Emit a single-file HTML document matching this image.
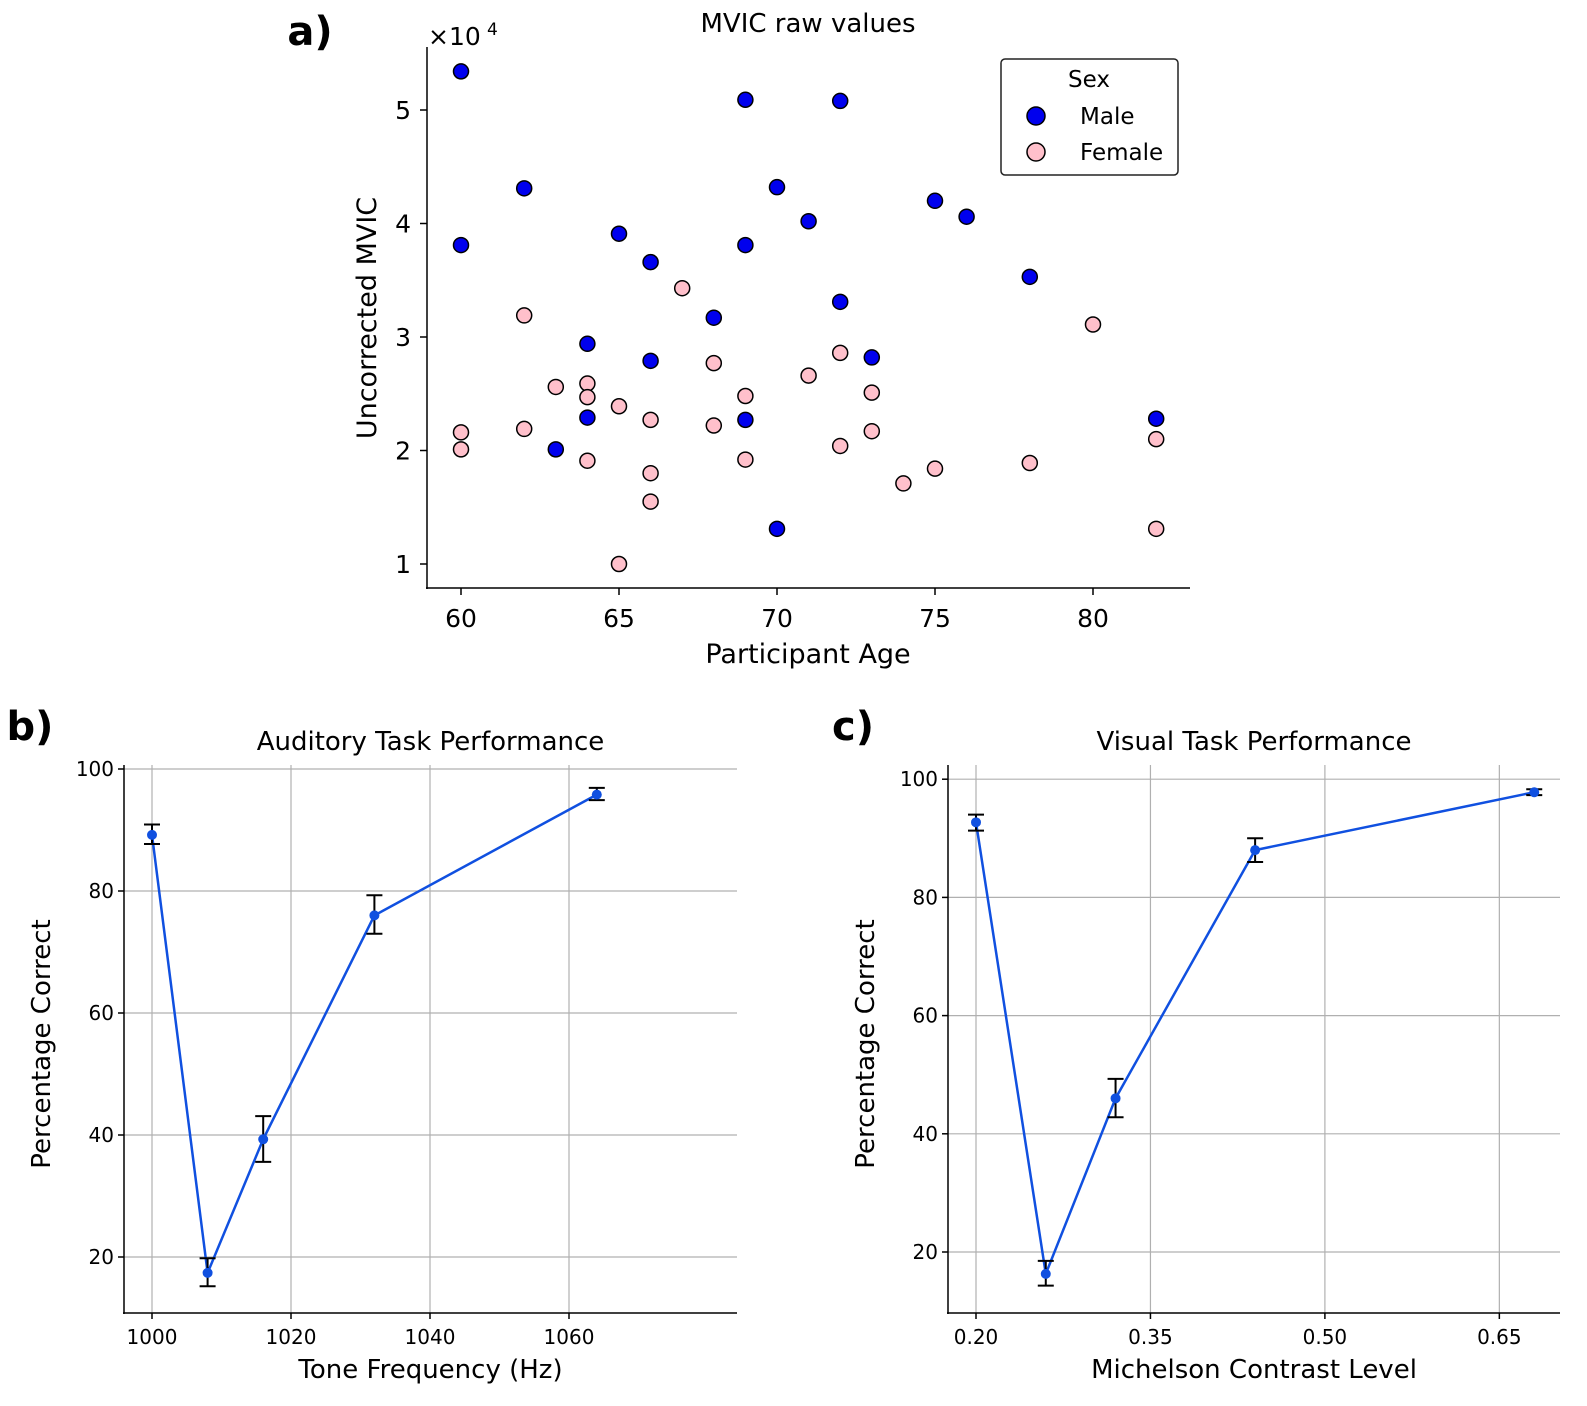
<!DOCTYPE html>
<html><head><meta charset="utf-8"><style>
html,body{margin:0;padding:0;background:#fff;overflow:hidden;width:1587px;height:1406px}
svg{display:block}
svg text{font-family:"DejaVu Sans","Liberation Sans",sans-serif;fill:#000}
</style></head><body>
<svg id="s" width="1587" height="1406" viewBox="0 0 1587 1406" xmlns="http://www.w3.org/2000/svg"></svg>
<script>
const maleAge=[60,60,62,63,64,64,65,66,66,68,69,69,69,70,70,71,72,72,73,75,76,78,82];
const maleMVIC=[5.34,3.81,4.31,2.01,2.94,2.29,3.91,3.66,2.79,3.17,5.09,3.81,2.27,4.32,1.31,4.02,5.08,3.31,2.82,4.20,4.06,3.53,2.28];
const femaleAge=[60,60,62,62,63,64,64,64,65,65,66,66,66,67,68,68,69,69,71,72,72,73,73,74,75,78,80,82,82];
const femaleMVIC=[2.16,2.01,3.19,2.19,2.56,2.59,2.47,1.91,2.39,1.0,2.27,1.80,1.55,3.43,2.77,2.22,2.48,1.92,2.66,2.86,2.04,2.51,2.17,1.71,1.84,1.89,3.11,2.10,1.31];
const ageTicks=[60,65,70,75,80];
const mvicTicks=[1,2,3,4,5];
const toneFreq=[1000,1008,1016,1032,1064];
const toneMean=[89.2,17.4,39.3,76.0,95.8];
const toneLo=[87.7,15.2,35.6,73.0,94.9];
const toneHi=[90.9,19.8,43.1,79.3,96.9];
const toneTicks=[1000,1020,1040,1060];
const contrast=[0.20,0.26,0.32,0.44,0.68];
const visMean=[92.7,16.3,46.0,88.0,97.8];
const visLo=[91.3,14.3,42.8,86.0,97.3];
const visHi=[94.0,18.5,49.3,90.0,98.3];
const contrastTicks=[0.20,0.35,0.50,0.65];
const pctTicks=[20,40,60,80,100];

const S=document.getElementById('s');const NS='http://www.w3.org/2000/svg';
function el(t,a,txt){const e=document.createElementNS(NS,t);for(const k in a)e.setAttribute(k,a[k]);if(txt!==undefined)e.textContent=txt;S.appendChild(e);return e;}
function line(x1,y1,x2,y2,c,w){return el('line',{x1,y1,x2,y2,stroke:c,'stroke-width':w});}
function text(x,y,s,sz,anc,extra){const e=el('text',Object.assign({x,y,'font-size':sz,'text-anchor':anc||'middle'},extra||{}),s);return e;}

// Panel a
const ax=v=>461+(v-60)*31.6, ay=v=>564-(v-1)*113.5;
let t=text(310,45,'a)',40,'middle',{'font-weight':'bold'});
t=text(808,32,'MVIC raw values',26);
let l=line(427,47,427,589,'#000',1.5);
l=line(426,588,1190,588,'#000',1.5);
ageTicks.forEach(v=>{line(ax(v),588,ax(v),595,'#000',1.5);const e=text(ax(v),627,String(v),25);});
mvicTicks.forEach(v=>{line(420,ay(v),427,ay(v),'#000',1.5);const e=text(411,ay(v)+9,String(v),25,'end');});
t=text(428,45,'×10',25,'start');
text(487,35,'4',17,'start');
t=text(808,663,'Participant Age',27);
t=text(376,318,'Uncorrected MVIC',27,'middle',{transform:'rotate(-90 376 318)'});
maleAge.forEach((a,i)=>{const c=el('circle',{cx:ax(a),cy:ay(maleMVIC[i]),r:7.5,fill:'#0000ee',stroke:'#000','stroke-width':1.5});});
femaleAge.forEach((a,i)=>{const c=el('circle',{cx:ax(a),cy:ay(femaleMVIC[i]),r:7.5,fill:'#ffc0cb',stroke:'#000','stroke-width':1.5});});
let r=el('rect',{x:1001,y:59,width:177,height:116,rx:4,fill:'#fff',stroke:'#222','stroke-width':1.5});
text(1089,87,'Sex',23);
el('circle',{cx:1036,cy:116,r:9,fill:'#0000ee',stroke:'#000','stroke-width':1.5});
t=text(1080,124,'Male',23,'start');
el('circle',{cx:1036,cy:152,r:9,fill:'#ffc0cb',stroke:'#000','stroke-width':1.5});
t=text(1080,160,'Female',23,'start');

// line panels
function panel(p){
  const {L,R,T,B,xf,yf,xt,xfmt,xs,m,lo,hi,label,lx,title,xtitle,nm}=p;
  pctTicks.forEach(v=>{if(yf(v)>=T-2){const g=line(L,yf(v),R,yf(v),'#b0b0b0',1.2);}});
  xt.forEach(v=>{const g=line(xf(v),T,xf(v),B,'#b0b0b0',1.2);});
  let a=line(L,T,L,B+1,'#000',1.5);
  a=line(L-1,B,R,B,'#000',1.5);
  xt.forEach(v=>{line(xf(v),B,xf(v),B+6,'#000',1.5);const e=text(xf(v),B+31,xfmt(v),20);});
  pctTicks.forEach(v=>{line(L-6,yf(v),L,yf(v),'#000',1.5);const e=text(L-10,yf(v)+7,String(v),20,'end');});
  let e=text(lx,740,label,40,'middle',{'font-weight':'bold'});
  e=text((L+R)/2,750,title,26);
  e=text((L+R)/2,1378,xtitle,26);
  const yc=(T+B)/2+5;e=text(L-74,yc,'Percentage Correct',26,'middle',{transform:`rotate(-90 ${L-74} ${yc})`});
  const pl=el('polyline',{points:xs.map((x,i)=>xf(x)+','+yf(m[i])).join(' '),fill:'none',stroke:'#1050e0','stroke-width':2.5});
  
  xs.forEach((x,i)=>{const X=xf(x);
    const g=el('path',{d:`M${X},${yf(lo[i])}V${yf(hi[i])}M${X-8},${yf(lo[i])}H${X+8}M${X-8},${yf(hi[i])}H${X+8}`,stroke:'#000','stroke-width':2,fill:'none'});
    
    const c=el('circle',{cx:X,cy:yf(m[i]),r:5,fill:'#1050e0'});});
}
panel({L:124,R:737,T:765,B:1313,xf:v=>152+(v-1000)*6.95,yf:v=>1257-(v-20)*6.1,xt:toneTicks,xfmt:v=>String(v),xs:toneFreq,m:toneMean,lo:toneLo,hi:toneHi,label:'b)',lx:30,title:'Auditory Task Performance',xtitle:'Tone Frequency (Hz)',nm:'b'});
panel({L:948,R:1560,T:765,B:1313,xf:v=>976+(v-0.2)*1163,yf:v=>1252-(v-20)*5.91,xt:contrastTicks,xfmt:v=>v.toFixed(2),xs:contrast,m:visMean,lo:visLo,hi:visHi,label:'c)',lx:853,title:'Visual Task Performance',xtitle:'Michelson Contrast Level',nm:'c'});
</script>
</body></html>
